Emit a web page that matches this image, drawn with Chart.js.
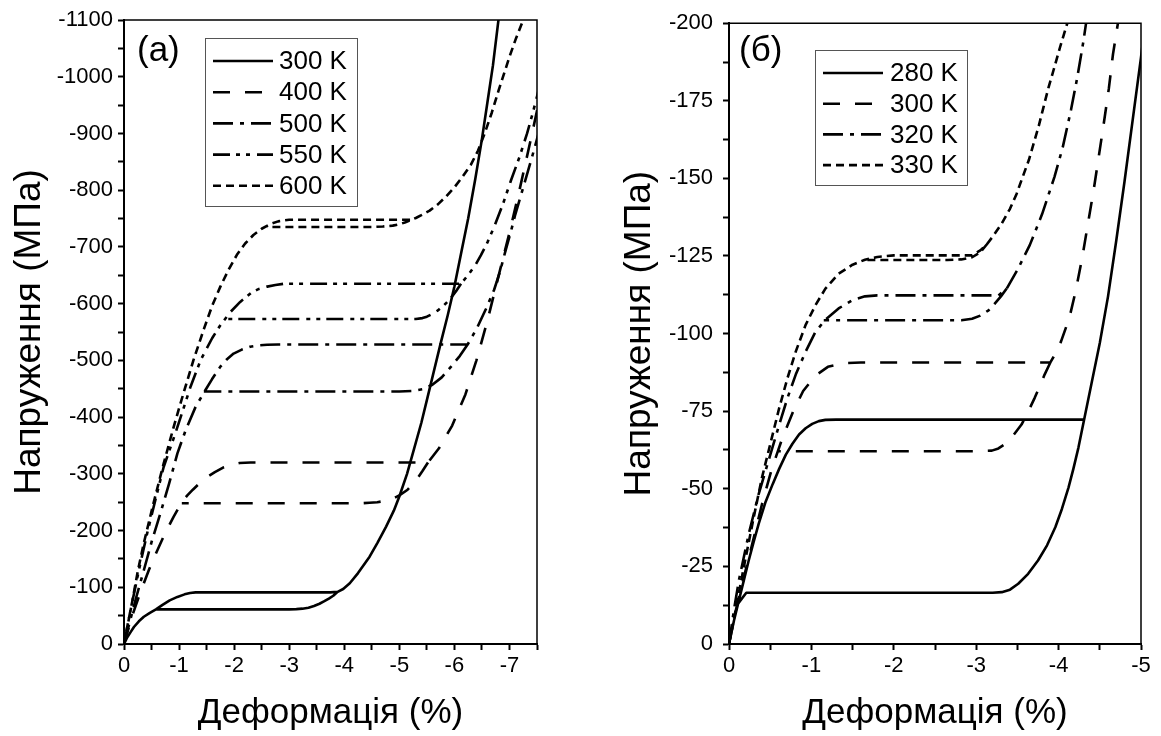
<!DOCTYPE html>
<html><head><meta charset="utf-8">
<script src="https://cdn.jsdelivr.net/npm/chart.js@4.4.1/dist/chart.umd.min.js"></script>
<style>
html,body{margin:0;padding:0;background:#fff;}
#wrap{position:relative;width:1161px;height:736px;overflow:hidden;background:#fff;}
canvas{position:absolute;top:0;}
</style></head><body>
<div id="wrap">
<canvas id="cA" width="580" height="736" style="left:0px"></canvas>
<canvas id="cB" width="581" height="736" style="left:580px"></canvas>
</div>
<script>
// ---------- Panel (a): strain (%) and stress (MPa); null separates loading / unloading branches
const labelsA = ['300 K', '400 K', '500 K', '550 K', '600 K'];
const strainA300 = [0,-0.06,-0.12,-0.18,-0.27,-0.36,-0.47,-0.58,-0.7,-0.83,-0.97,-1.1,-1.2,-1.3,-1.45,-3.75,-3.88,-3.98,-4.1,-4.25,-4.46,-4.6,-4.76,-4.9,-5.0,-5.14,-5.27,-5.4,-5.5,-5.62,-5.75,-5.88,-6.0,-6.12,-6.25,-6.38,-6.5,-6.6,-6.7,-6.8,-6.86,
  null, -3.88,-3.8,-3.72,-3.63,-3.55,-3.45,-3.35,-3.24,-3.13,-3.0,-0.58];
const stressA300 = [0,-12,-21,-30,-40,-48,-55,-61,-69,-77,-83,-87.5,-90,-91,-91,-91,-92,-97,-107,-125,-154,-178,-207,-235,-260,-300,-345,-390,-430,-478,-530,-580,-630,-688,-750,-820,-890,-955,-1020,-1100,-1150,
  null, -92,-85,-80,-75,-71,-67,-64,-62.3,-61.5,-61,-61];
const strainA400 = [0,-0.15,-0.3,-0.45,-0.6,-0.75,-0.9,-1.05,-1.15,-1.25,-1.38,-1.5,-1.65,-1.8,-1.95,-2.1,-2.3,-5.52,-5.72,-5.96,-6.2,-6.4,-6.6,-6.8,-7.0,-7.2,-7.4,-7.6,
  null, -5.52,-5.42,-5.3,-5.15,-5.0,-4.88,-4.76,-4.6,-4.46,-4.3,-1.05];
const stressA400 = [0,-50,-92,-130,-164,-196,-224,-250,-262,-272,-284,-294,-303,-311,-316,-319,-320,-320,-345,-385,-440,-500,-570,-648,-725,-808,-895,-985,
  null, -320,-305,-288,-272,-262,-256,-252.5,-250,-249,-248,-248];
const strainA500 = [0,-0.21,-0.36,-0.51,-0.66,-0.82,-0.97,-1.12,-1.3,-1.45,-1.6,-1.75,-1.87,-1.99,-2.14,-2.29,-2.45,-2.6,-2.8,-6.24,-6.33,-6.42,-6.57,-6.72,-6.83,-6.93,-7.02,-7.1,-7.25,-7.42,-7.5,-7.6,
  null, -6.24,-6.1,-5.94,-5.77,-5.6,-5.42,-5.24,-5.0,-1.45];
const stressA500 = [0,-78,-130,-183,-230,-283,-336,-377,-418,-443,-467,-489,-502,-512,-519,-524,-526.5,-527.5,-528,-528,-543,-559,-590,-624,-657,-694,-725,-755,-805,-862,-890,-925,
  null, -528,-508,-489,-470,-457,-449,-446,-445,-445];
const strainA550 = [0,-0.12,-0.27,-0.42,-0.57,-0.72,-0.91,-1.09,-1.21,-1.39,-1.6,-1.75,-1.93,-2.11,-2.32,-2.45,-2.6,-2.75,-2.9,-6.12,-6.27,-6.38,-6.48,-6.6,-6.72,-6.88,-7.03,-7.18,-7.32,-7.42,-7.5,-7.6,
  null, -6.12,-6.03,-5.95,-5.87,-5.8,-5.7,-5.6,-5.5,-5.42,-5.3,-1.83];
const stressA550 = [0,-60,-130,-195,-254,-312,-365,-418,-454,-500,-539,-562,-585,-603,-620,-626,-630,-633,-635,-635,-653,-668,-685,-708,-735,-775,-818,-858,-900,-935,-965,-1005,
  null, -635,-622,-612,-603,-596,-588,-582,-577,-574.5,-573,-573];
const strainA600 = [0,-0.06,-0.15,-0.25,-0.36,-0.54,-0.72,-0.9,-1.08,-1.26,-1.45,-1.6,-1.75,-1.9,-2.05,-2.2,-2.35,-2.5,-2.65,-2.8,-3.0,-5.2,-5.3,-5.4,-5.55,-5.7,-5.85,-6.0,-6.15,-6.3,-6.43,-6.55,-6.68,-6.8,-6.9,-7.0,-7.12,-7.25,-7.35,
  null, -5.4,-5.3,-5.2,-5.1,-5.0,-4.88,-4.7,-4.5,-2.6];
const stressA600 = [0,-31,-75,-128,-178,-250,-318,-382,-442,-500,-555,-596,-630,-660,-686,-706,-721,-732,-740,-745,-748,-748,-751,-756,-764,-775,-789,-805,-824,-845,-870,-900,-937,-975,-1005,-1035,-1068,-1100,-1130,
  null, -756,-751,-747,-743,-740,-737.5,-736,-735,-735];

// ---------- Panel (б)
const labelsB = ['280 K', '300 K', '320 K', '330 K'];
const strainB280 = [0,-0.06,-0.12,-0.18,-0.24,-0.3,-0.36,-0.44,-0.53,-0.61,-0.69,-0.77,-0.85,-0.93,-1.01,-1.09,-1.17,-1.3,-4.31,-4.4,-4.5,-4.6,-4.7,-4.8,-4.9,-5.0,-5.06,
  null, -4.31,-4.24,-4.18,-4.12,-4.04,-3.96,-3.86,-3.75,-3.63,-3.51,-3.41,-3.31,-3.2,-0.21,-0.11];
const stressB280 = [0,-7.5,-14,-20.5,-27,-33,-38.7,-45.5,-51.5,-56.5,-61,-64.5,-67.5,-69.5,-70.9,-71.8,-72.2,-72.3,-72.3,-84,-97,-112,-130,-149,-169,-189,-202,
  null, -72.3,-63.2,-56.5,-50.4,-43.5,-37.6,-31.8,-26.9,-22.6,-19.4,-17.5,-16.7,-16.5,-16.5,-13];
const strainB300 = [0,-0.08,-0.16,-0.28,-0.4,-0.52,-0.65,-0.78,-0.9,-1.05,-1.2,-1.4,-1.6,-3.9,-3.97,-4.03,-4.13,-4.21,-4.29,-4.36,-4.43,-4.49,-4.55,-4.61,-4.66,-4.72,-4.76,
  null, -3.9,-3.83,-3.77,-3.71,-3.63,-3.55,-3.45,-3.36,-3.27,-3.19,-3.0,-0.6];
const stressB300 = [0,-10.5,-19.4,-32,-45,-56.5,-66.5,-75,-81.5,-86.5,-89.3,-90.5,-90.7,-90.7,-94,-97.5,-105,-114,-125,-136,-147,-157.5,-168,-179,-190,-200,-207,
  null, -90.7,-86.8,-83,-79.3,-74.8,-70.7,-67.2,-64.6,-63,-62.3,-62.1,-62.1];
const strainB320 = [0,-0.06,-0.12,-0.24,-0.36,-0.49,-0.61,-0.71,-0.81,-0.93,-1.05,-1.17,-1.33,-1.5,-1.65,-1.8,-3.27,-3.37,-3.5,-3.65,-3.8,-3.95,-4.05,-4.15,-4.23,-4.3,-4.35,
  null, -3.37,-3.3,-3.22,-3.15,-3.05,-2.95,-2.82,-2.6,-1.15];
const stressB320 = [0,-11,-20.5,-35.5,-48.3,-60,-70.7,-79.3,-86.8,-94.2,-100.6,-104.5,-108.1,-110.8,-112,-112.3,-112.3,-114.5,-120.5,-128.5,-138.5,-150.5,-160,-172,-183,-194,-203,
  null, -114.5,-112,-109.5,-107.5,-105.8,-104.8,-104.3,-104.3,-104.3];
const strainB330 = [0,-0.08,-0.18,-0.3,-0.4,-0.51,-0.61,-0.71,-0.81,-0.93,-1.05,-1.17,-1.33,-1.5,-1.65,-1.8,-2.0,-2.95,-3.05,-3.13,-3.21,-3.31,-3.41,-3.49,-3.57,-3.64,-3.7,-3.76,-3.82,-3.88,-3.94,-4.02,-4.1,-4.14,
  null, -3.13,-3.05,-2.95,-2.82,-2.65,-1.68];
const stressB330 = [0,-10.9,-24.8,-40.8,-53.6,-65.4,-76.1,-85.7,-94.2,-102.8,-109.2,-114.5,-119.3,-122.2,-123.8,-124.7,-125.2,-125.2,-126.8,-128.8,-131.6,-135.5,-140.2,-145,-150.9,-156,-161.5,-167,-173.3,-179.5,-185,-192.5,-199.5,-203,
  null, -128.8,-126.2,-124.6,-123.9,-123.7,-123.7];

// ---------- helpers
const FF = "'Liberation Sans', Arial, Helvetica, sans-serif";
function pts(xs, ys) { return xs.map((x, i) => ({ x: x, y: ys[i] })); }
const DASH = {
  solid: [], dash: [17, 15], dashdot: [20, 7, 4, 7], dashdotdot: [17, 6, 4, 6, 4, 7], short: [8, 5]
};
function ds(label, xs, ys, dash) {
  return { label, data: pts(xs, ys), borderColor: '#000', borderWidth: 2.6, borderDash: dash,
           pointRadius: 0, tension: 0, fill: false, spanGaps: false, borderJoinStyle: 'round' };
}
const isInt = v => Math.abs(v - Math.round(v)) < 1e-9;
const fmt = v => { const r = Math.round(v); return r === 0 ? '0' : String(r); };

const framePlugin = {
  id: 'frame',
  afterDatasetsDraw(chart, args, o) {
    const ctx = chart.ctx, a = chart.chartArea;
    ctx.save();
    ctx.strokeStyle = '#000'; ctx.lineWidth = 1.5; ctx.setLineDash([]);
    ctx.beginPath(); ctx.moveTo(a.left, a.top); ctx.lineTo(a.right, a.top); ctx.lineTo(a.right, a.bottom); ctx.stroke();
    ctx.fillStyle = '#000'; ctx.textBaseline = 'middle'; ctx.textAlign = 'left';
    ctx.font = '35px ' + FF;
    ctx.fillText(o.letter, o.letterX, o.letterY);
    const L = o.legend;
    ctx.fillStyle = '#fff'; ctx.fillRect(L.x, L.y, L.w, L.h);
    ctx.strokeStyle = '#555'; ctx.lineWidth = 1; ctx.strokeRect(L.x + 0.5, L.y + 0.5, L.w, L.h);
    chart.data.datasets.forEach((d, i) => {
      const y = L.row0 + i * L.rowGap;
      ctx.strokeStyle = '#000'; ctx.lineWidth = d.borderWidth; ctx.setLineDash(d.borderDash || []);
      ctx.beginPath(); ctx.moveTo(L.x0, y); ctx.lineTo(L.x1, y); ctx.stroke();
      ctx.setLineDash([]);
      ctx.fillStyle = '#000'; ctx.font = '26px ' + FF;
      ctx.fillText(d.label, L.textX, y + 1);
    });
    ctx.restore();
  }
};

function scales(xmin, ymin, ystep, ylabelStep, yw, ytPad, ytitlePad) {
  return {
    x: {
      type: 'linear', min: xmin, max: 0, reverse: true,
      ticks: { stepSize: 0.5, maxTicksLimit: 100, autoSkip: false, maxRotation: 0, color: '#000',
               font: { family: FF, size: 22 }, padding: 3,
               callback: v => isInt(v) ? fmt(v) : '' },
      grid: { display: true, drawOnChartArea: false, drawTicks: true, tickLength: 6, tickWidth: 2, tickColor: '#000' },
      border: { display: true, color: '#000', width: 2 },
      title: { display: true, text: 'Деформація (%)', color: '#000', font: { family: FF, size: 35 }, padding: { top: 0, bottom: 2 } },
      afterFit: s => { s.height = 92; }
    },
    y: {
      type: 'linear', min: ymin, max: 0, reverse: true,
      ticks: { stepSize: ystep, maxTicksLimit: 100, autoSkip: false, color: '#000',
               font: { family: FF, size: 22 }, padding: ytPad,
               callback: v => (Math.abs(v % ylabelStep) < 1e-9) ? fmt(v) : '' },
      grid: { display: true, drawOnChartArea: false, drawTicks: true, tickLength: 6, tickWidth: 2, tickColor: '#000' },
      border: { display: true, color: '#000', width: 2 },
      title: { display: true, text: 'Напруження (МПа)', color: '#000', font: { family: FF, size: 37 }, padding: { top: ytitlePad, bottom: 0 } },
      afterFit: s => { s.width = yw; }
    }
  };
}

new Chart(document.getElementById('cA'), {
  type: 'line',
  data: { datasets: [
    ds(labelsA[0], strainA300, stressA300, DASH.solid),
    ds(labelsA[1], strainA400, stressA400, DASH.dash),
    ds(labelsA[2], strainA500, stressA500, DASH.dashdot),
    ds(labelsA[3], strainA550, stressA550, DASH.dashdotdot),
    ds(labelsA[4], strainA600, stressA600, DASH.short)
  ] },
  options: {
    responsive: false, animation: false, events: [],
    layout: { padding: { left: 0, top: 20, right: 43, bottom: 0 } },
    scales: scales(-7.5, -1100, 50, 100, 124, 5, 8),
    plugins: {
      legend: { display: false }, tooltip: { enabled: false },
      frame: { letter: '(a)', letterX: 137, letterY: 51,
        legend: { x: 205, y: 38, w: 152, h: 168, x0: 213, x1: 273, textX: 279, row0: 61, rowGap: 31.2 } }
    }
  },
  plugins: [framePlugin]
});

new Chart(document.getElementById('cB'), {
  type: 'line',
  data: { datasets: [
    ds(labelsB[0], strainB280, stressB280, DASH.solid),
    ds(labelsB[1], strainB300, stressB300, DASH.dash),
    ds(labelsB[2], strainB320, stressB320, DASH.dashdot),
    ds(labelsB[3], strainB330, stressB330, DASH.short)
  ] },
  options: {
    responsive: false, animation: false, events: [],
    layout: { padding: { left: 0, top: 20, right: 20, bottom: 0 } },
    scales: scales(-5, -200, 12.5, 25, 149, 10, 38),
    plugins: {
      legend: { display: false }, tooltip: { enabled: false },
      frame: { letter: '(б)', letterX: 159, letterY: 51,
        legend: { x: 235, y: 50, w: 152, h: 135, x0: 243, x1: 303, textX: 310, row0: 73, rowGap: 30.7 } }
    }
  },
  plugins: [framePlugin]
});
</script>
</body></html>
